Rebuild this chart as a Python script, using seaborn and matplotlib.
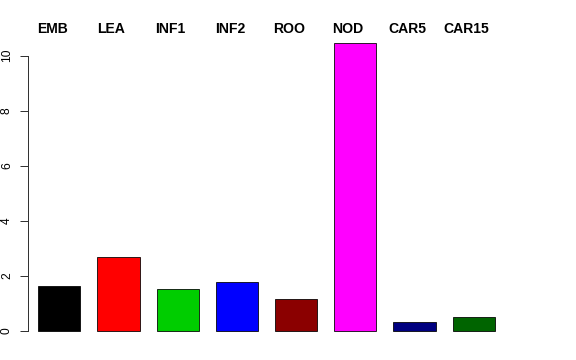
import matplotlib
matplotlib.use("Agg")
import matplotlib.pyplot as plt
import matplotlib.transforms as mtransforms
import seaborn as sns
import pandas as pd

categories = ["EMB", "LEA", "INF1", "INF2", "ROO", "NOD", "CAR5", "CAR15"]
values = [1.64, 2.69, 1.52, 1.78, 1.15, 10.47, 0.31, 0.49]
colors = ["#000000", "#FF0000", "#00CD00", "#0000FF", "#8B0000", "#FF00FF", "#000080", "#006400"]
yticks = [0, 2, 4, 6, 8, 10]

sns.set_style("white")
plt.rcParams["font.family"] = ["Liberation Sans", "DejaVu Sans"]

df = pd.DataFrame({"cat": categories, "val": values})

fig = plt.figure(figsize=(8, 5), dpi=72)
ax = fig.add_axes([28 / 576, 1 - 340 / 360, (540 - 28) / 576, (340 - 30) / 360])
sns.barplot(data=df, x="cat", y="val", hue="cat", palette=colors, order=categories,
            hue_order=categories, legend=False, width=0.71, edgecolor="black",
            linewidth=0.8, saturation=1, ax=ax)

ax.set_xlim((28 - 59.3) / 59.2, (540 - 59.3) / 59.2)
ax.set_ylim(-(340 - 330.7) / 27.5, (330.7 - 30) / 27.5)

for s in ["top", "right", "bottom"]:
    ax.spines[s].set_visible(False)
ax.spines["left"].set_bounds(0, 10)
ax.spines["left"].set_color("#333333")
ax.spines["left"].set_linewidth(1)
ax.set_xticks([])
ax.set_yticks(yticks)
ax.set_yticklabels([str(t) for t in yticks], rotation=90, va="center", fontsize=12, color="black")
ax.tick_params(axis="y", direction="out", length=8, width=1, color="#333333", pad=7, left=True)
ax.set_xlabel("")
ax.set_ylabel("")

trans = mtransforms.blended_transform_factory(ax.transData, fig.transFigure)
for i, c in enumerate(categories):
    ax.text(i - 0.12, 1 - 29 / 360, c, transform=trans, ha="center", va="center",
            fontsize=14, fontweight="bold", color="black", clip_on=False)

fig.savefig("out.png", dpi=72)
